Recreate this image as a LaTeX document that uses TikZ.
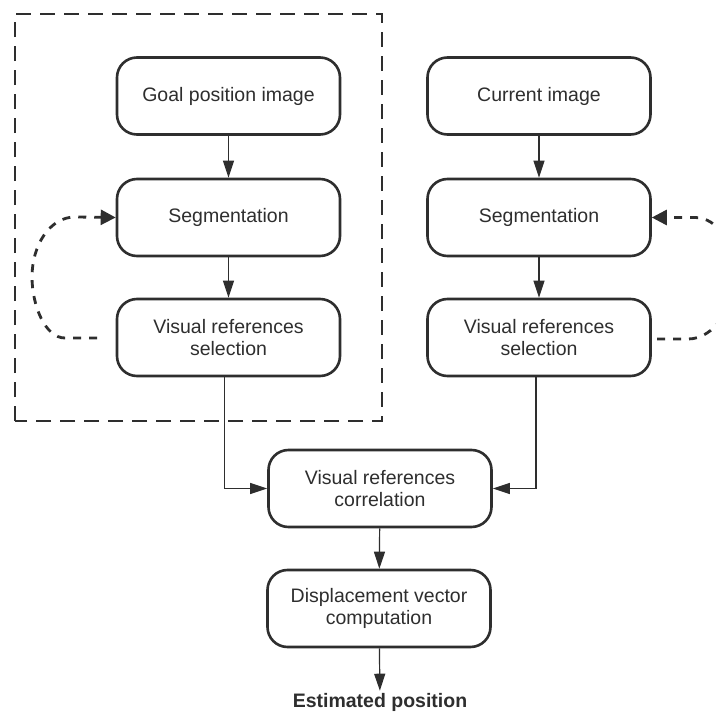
\documentclass[tikz,border=0pt]{standalone}
\usepackage{fontspec}
\setmainfont{Liberation Sans}
\usetikzlibrary{arrows.meta}
\definecolor{ink}{HTML}{2E2E2E}
\begin{document}
\begin{tikzpicture}[x=1pt,y=-1pt,
  stepbox/.style={draw=ink,line width=2.6pt,rounded corners=20pt,minimum width=223pt,minimum height=77pt,inner sep=0pt,align=center,text=ink,font=\fontsize{19.5}{21.5}\selectfont},
  flow/.style={draw=ink,line width=1.2pt,-{Triangle[length=17pt,width=11pt]}},
  loop/.style={draw=ink,line width=2.8pt,dash pattern=on 8pt off 8pt,-{Triangle[length=15pt,width=15pt]}},
  frame/.style={draw=ink,line width=1.4pt,dash pattern=on 15pt off 9pt}]
\useasboundingbox (0,0) rectangle (716,712);
\fill[white] (0,0) rectangle (716,712);
% dashed frame
\draw[frame] (15,421) -- (15,14) -- (382,14) -- (382,421) -- cycle;
% nodes
\node[stepbox] (goal) at (228.5,96) {Goal position image};
\node[stepbox] (cur) at (539,96) {Current image};
\node[stepbox] (seg1) at (228.5,217.5) {Segmentation};
\node[stepbox] (seg2) at (539,217.5) {Segmentation};
\node[stepbox] (sel1) at (228.5,337.5) {Visual references\\selection};
\node[stepbox] (sel2) at (539,337.5) {Visual references\\selection};
\node[stepbox] (corr) at (380,488.5) {Visual references\\correlation};
\node[stepbox] (disp) at (379,608.5) {Displacement vector\\computation};
\node[text=ink,font=\fontsize{19.5}{22}\selectfont\bfseries,inner sep=2pt] (est) at (380,702) {Estimated position};
% connectors
\draw[flow] (goal) -- (seg1);
\draw[flow] (seg1) -- (sel1);
\draw[flow] (cur) -- (seg2);
\draw[flow] (seg2) -- (sel2);
\draw[flow] ([xshift=-4pt]sel1.south) |- (corr.west);
\draw[flow] ([xshift=-3pt]sel2.south) |- (corr.east);
\draw[flow] (corr) -- (disp);
\draw[flow] (disp) -- (est);
% feedback loops
\coordinate (l1) at (97,338);
\coordinate (l2) at (65,338);
\coordinate (l3) at (32,277);
\coordinate (l4) at (75,217);
\draw[loop] (l1) -- (l2) .. controls (45,338) and (32,305) .. (l3) .. controls (32,245) and (50,217) .. (l4) -- (seg1.west);
\coordinate (r1) at (657,339);
\coordinate (r2) at (688,339);
\coordinate (r3) at (735,277);
\coordinate (r4) at (695,217.5);
\draw[loop] (r1) -- (r2) .. controls (715,339) and (735,305) .. (r3) .. controls (735,245) and (718,217.5) .. (r4) -- (seg2.east);
\end{tikzpicture}
\end{document}
